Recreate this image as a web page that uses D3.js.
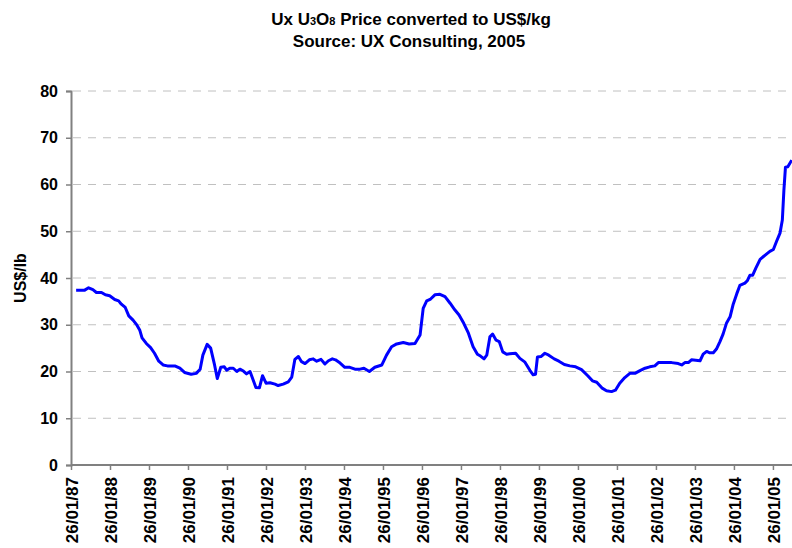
<!DOCTYPE html>
<html>
<head>
<meta charset="utf-8">
<script src="https://cdn.jsdelivr.net/npm/d3@7"></script>
<style>
  html, body { margin: 0; padding: 0; background: #fff; }
  svg { display: block; }
  text { font-family: "Liberation Sans", Arial, sans-serif; font-weight: bold; fill: #000; }
</style>
</head>
<body>
<svg id="chart" width="792" height="548"></svg>
<script>
// ---- Data ----
const titleLine1 = "Ux U3O8 Price converted to US$/kg";
const titleLine2 = "Source: UX Consulting, 2005";
const yAxisTitle = "US$/lb";

const xTickLabels = ["26/01/87","26/01/88","26/01/89","26/01/90","26/01/91","26/01/92",
  "26/01/93","26/01/94","26/01/95","26/01/96","26/01/97","26/01/98","26/01/99",
  "26/01/00","26/01/01","26/01/02","26/01/03","26/01/04","26/01/05"];
const xTickYears = [1987,1988,1989,1990,1991,1992,1993,1994,1995,1996,1997,1998,1999,
  2000,2001,2002,2003,2004,2005];
const yTicks = [0,10,20,30,40,50,60,70,80];

// time of each observation, in decimal years
const obsTime = [
  1987.20,1987.42,1987.52,1987.63,1987.72,1987.85,1987.95,1988.06,1988.19,1988.29,
  1988.36,1988.46,1988.55,1988.66,1988.76,1988.83,1988.89,1989.00,1989.11,1989.21,
  1989.32,1989.43,1989.54,1989.73,1989.86,1989.98,1990.15,1990.28,1990.38,1990.45,
  1990.56,1990.65,1990.75,1990.82,1990.91,1991.00,1991.06,1991.14,1991.23,1991.32,
  1991.40,1991.49,1991.57,1991.66,1991.74,1991.81,1991.90,1991.98,1992.07,1992.17,
  1992.30,1992.38,1992.51,1992.64,1992.73,1992.81,1992.90,1992.98,1993.07,1993.18,
  1993.28,1993.37,1993.48,1993.58,1993.67,1993.77,1993.85,1993.97,1994.09,1994.22,
  1994.35,1994.48,1994.58,1994.72,1994.86,1995.04,1995.16,1995.29,1995.42,1995.59,
  1995.74,1995.89,1996.02,1996.10,1996.19,1996.29,1996.40,1996.53,1996.66,1996.79,
  1996.91,1997.02,1997.14,1997.26,1997.38,1997.49,1997.57,1997.66,1997.73,1997.81,
  1997.88,1997.97,1998.05,1998.14,1998.24,1998.32,1998.47,1998.58,1998.71,1998.84,
  1998.92,1998.98,1999.03,1999.12,1999.22,1999.32,1999.46,1999.58,1999.72,1999.86,
  2000.01,2000.16,2000.32,2000.44,2000.55,2000.68,2000.80,2000.93,2001.03,2001.14,
  2001.27,2001.40,2001.53,2001.66,2001.79,2001.91,2002.04,2002.13,2002.30,2002.47,
  2002.64,2002.73,2002.81,2002.90,2002.98,2003.20,2003.28,2003.37,2003.45,2003.54,
  2003.62,2003.71,2003.79,2003.88,2003.97,2004.05,2004.14,2004.22,2004.35,2004.41,
  2004.48,2004.55,2004.63,2004.74,2004.87,2004.99,2005.08,2005.16,2005.25,2005.31,
  2005.35,2005.39,2005.45,2005.50,2005.55
];
// price, US$/lb
const obsPrice = [
  37.4,37.4,37.9,37.5,36.9,36.9,36.4,36.2,35.4,35.1,
  34.4,33.7,31.9,31.0,29.9,28.9,27.2,26.0,25.1,23.9,
  22.2,21.4,21.2,21.2,20.7,19.8,19.4,19.6,20.5,23.5,
  25.8,25.0,21.4,18.5,20.9,21.0,20.3,20.7,20.7,20.0,
  20.5,20.1,19.5,20.0,18.2,16.6,16.5,19.1,17.5,17.6,
  17.3,17.0,17.3,17.8,18.8,22.6,23.2,22.1,21.7,22.5,
  22.7,22.2,22.6,21.6,22.3,22.7,22.5,21.8,20.9,20.9,
  20.5,20.5,20.7,20.0,20.9,21.4,23.5,25.3,25.9,26.2,
  25.9,26.0,27.8,33.5,35.1,35.5,36.4,36.5,36.0,34.6,
  33.2,32.1,30.3,28.2,25.3,23.7,23.3,22.7,23.5,27.4,
  28.0,26.7,26.4,24.2,23.7,23.8,23.9,22.8,22.0,20.2,
  19.3,19.4,23.1,23.2,23.9,23.5,22.7,22.2,21.5,21.2,
  21.0,20.4,19.1,18.0,17.7,16.5,15.9,15.7,16.0,17.5,
  18.7,19.6,19.6,20.2,20.7,21.0,21.2,21.9,21.9,21.9,
  21.7,21.4,21.9,21.9,22.5,22.3,23.7,24.3,24.0,24.0,
  24.8,26.4,28.0,30.4,31.7,34.4,36.6,38.4,38.9,39.4,
  40.6,40.6,42.1,44.0,44.9,45.7,46.1,47.8,49.6,52.4,
  58.8,63.7,63.8,64.5,65.2
];

// ---- Layout ----
const svg = d3.select("#chart");
const plotLeft = 71, plotRight = 791.7, plotTop = 91, plotBottom = 465;
const tickStart = 1987 + 25 / 365; // 26 Jan

const x = d3.scaleLinear().domain([tickStart, 2005.55]).range([plotLeft, plotRight]);
const y = d3.scaleLinear().domain([0, 80]).range([plotBottom, plotTop]);

// Gridlines
svg.append("g")
  .selectAll("line")
  .data(yTicks.filter(d => d > 0))
  .join("line")
  .attr("x1", plotLeft + 2).attr("x2", 787)
  .attr("y1", d => y(d)).attr("y2", d => y(d))
  .attr("stroke", "#c0c0c0")
  .attr("stroke-width", 1)
  .attr("stroke-dasharray", "8,7");

// Y axis
const yAxis = d3.axisLeft(y).tickValues(yTicks).tickSize(5).tickPadding(8);
const gy = svg.append("g").attr("transform", `translate(${plotLeft},0)`).call(yAxis);
gy.select(".domain").attr("stroke", "#808080").attr("stroke-width", 2);
gy.selectAll(".tick line").attr("stroke", "#808080").attr("stroke-width", 1.5);
gy.selectAll(".tick text")
  .style("font-size", "16px").style("font-weight", "bold")
  .style("font-family", "'Liberation Sans', Arial, sans-serif")
  .attr("fill", "#000");

// X axis
const xAxis = d3.axisBottom(x)
  .tickValues(xTickYears.map(yr => yr + 25 / 365))
  .tickFormat((d, i) => xTickLabels[i])
  .tickSize(5);
const gx = svg.append("g").attr("transform", `translate(0,${plotBottom})`).call(xAxis);
gx.select(".domain").attr("stroke", "#808080").attr("stroke-width", 2)
  .attr("d", `M${plotLeft},0H792`);
gx.selectAll(".tick line").attr("stroke", "#808080").attr("stroke-width", 1.5);
gx.selectAll(".tick text")
  .style("font-size", "17px").style("font-weight", "bold")
  .style("font-family", "'Liberation Sans', Arial, sans-serif")
  .attr("fill", "#000")
  .attr("text-anchor", "end")
  .attr("transform", "rotate(-90)")
  .attr("x", -12)
  .attr("y", 0)
  .attr("dy", "0.36em");

// Y axis title
svg.append("text")
  .attr("transform", `translate(26,278) rotate(-90)`)
  .attr("text-anchor", "middle")
  .style("font-size", "16px")
  .text(yAxisTitle);

// Title
const t1 = svg.append("text")
  .attr("x", 411).attr("y", 25)
  .attr("text-anchor", "middle")
  .style("font-size", "17px");
t1.append("tspan").text("Ux U");
t1.append("tspan").style("font-size", "11px").text("3");
t1.append("tspan").text("O");
t1.append("tspan").style("font-size", "11px").text("8");
t1.append("tspan").text(" Price converted to US$/kg");

svg.append("text")
  .attr("x", 409).attr("y", 47)
  .attr("text-anchor", "middle")
  .style("font-size", "17px")
  .text(titleLine2);

// Price line
const line = d3.line()
  .x((d, i) => x(obsTime[i]))
  .y(d => y(d));

svg.append("path")
  .datum(obsPrice)
  .attr("fill", "none")
  .attr("stroke", "#0000ff")
  .attr("stroke-width", 3)
  .attr("stroke-linejoin", "round")
  .attr("d", line);
</script>
</body>
</html>
